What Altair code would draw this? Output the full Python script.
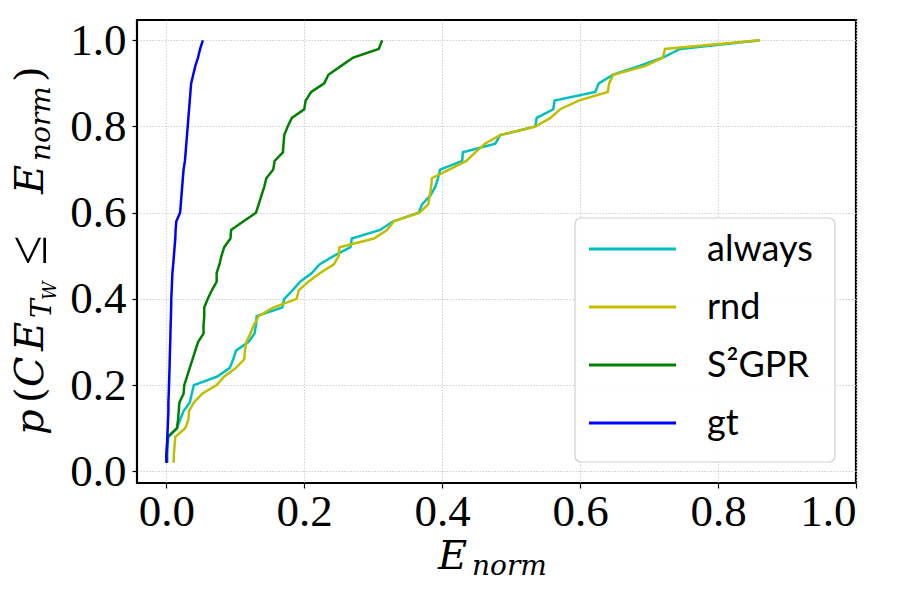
import altair as alt
import pandas as pd

# ECDF levels (50 samples per method)
levels = [k / 50 for k in range(1, 51)]

always_x = [0.001, 0.001, 0.002, 0.003, 0.0155, 0.020, 0.025, 0.034, 0.037, 0.040,
            0.074, 0.092, 0.097, 0.101, 0.119, 0.128, 0.130, 0.131, 0.168, 0.171,
            0.183, 0.194, 0.211, 0.222, 0.243, 0.267, 0.269, 0.310, 0.329, 0.366,
            0.371, 0.383, 0.390, 0.394, 0.397, 0.429, 0.430, 0.477, 0.484, 0.535,
            0.537, 0.561, 0.563, 0.622, 0.627, 0.648, 0.685, 0.720, 0.745, 0.861]

rnd_x = [0.0106, 0.011, 0.012, 0.013, 0.0275, 0.032, 0.033, 0.040, 0.052, 0.073,
         0.084, 0.101, 0.113, 0.114, 0.116, 0.122, 0.127, 0.134, 0.155, 0.189,
         0.192, 0.206, 0.223, 0.243, 0.250, 0.251, 0.301, 0.320, 0.330, 0.367,
         0.380, 0.382, 0.384, 0.385, 0.410, 0.435, 0.448, 0.462, 0.484, 0.535,
         0.557, 0.571, 0.598, 0.640, 0.642, 0.648, 0.694, 0.720, 0.723, 0.861]

s2gpr_x = [0.001, 0.001, 0.001, 0.002, 0.0155, 0.017, 0.018, 0.019, 0.025, 0.026,
           0.030, 0.034, 0.038, 0.042, 0.046, 0.054, 0.054, 0.055, 0.055, 0.060,
           0.066, 0.073, 0.073, 0.077, 0.080, 0.084, 0.093, 0.094, 0.112, 0.130,
           0.134, 0.138, 0.142, 0.145, 0.155, 0.157, 0.169, 0.170, 0.171, 0.176,
           0.182, 0.200, 0.202, 0.210, 0.229, 0.235, 0.253, 0.271, 0.308, 0.313]

gt_x = [0.000, 0.000, 0.001, 0.0015, 0.002, 0.0025, 0.003, 0.003, 0.0035, 0.0039,
        0.0043, 0.0047, 0.005, 0.0053, 0.0057, 0.006, 0.0063, 0.0067, 0.007, 0.0072,
        0.0078, 0.0083, 0.0088, 0.010, 0.011, 0.012, 0.013, 0.0135, 0.0145, 0.020,
        0.021, 0.022, 0.023, 0.024, 0.025, 0.027, 0.028, 0.029, 0.030, 0.031,
        0.032, 0.033, 0.034, 0.035, 0.036, 0.039, 0.042, 0.046, 0.049, 0.053]

series_names = ["always", "rnd", "S²GPR", "gt"]
series_colors = ["#00bfbf", "#bfbf00", "#008000", "#0000ff"]
series_values = [always_x, rnd_x, s2gpr_x, gt_x]

tick_values = [0.0, 0.2, 0.4, 0.6, 0.8, 1.0]

rows = []
for name, xs in zip(series_names, series_values):
    for i, (xv, yv) in enumerate(zip(xs, levels)):
        rows.append({"method": name, "E": xv, "p": yv, "i": i})
df = pd.DataFrame(rows)

SERIF = "Liberation Serif"
TSERIF = "DejaVu Serif"

xscale = alt.Scale(domain=[-0.0425, 1.0], nice=False, zero=False)
yscale = alt.Scale(domain=[-0.027, 1.047], nice=False, zero=False)

line_layers = []
for name, color in zip(series_names, series_colors):
    line_layers.append(
        alt.Chart(df).transform_filter(alt.datum.method == name)
        .mark_line(color=color, strokeWidth=2.5, clip=True)
        .encode(
            x=alt.X("E:Q", scale=xscale,
                    axis=alt.Axis(values=tick_values, format=".1f", title=None)),
            y=alt.Y("p:Q", scale=yscale,
                    axis=alt.Axis(values=tick_values, format=".1f", title=None)),
            order="i:Q",
        )
    )
lines = alt.layer(*line_layers)

# manual legend
leg_df = pd.DataFrame({"method": series_names, "c": series_colors})
leg_y = alt.Y("method:N", scale=alt.Scale(type="point", domain=series_names,
                                          range=[229, 403], padding=0), axis=None)
legend_box = alt.Chart(pd.DataFrame({"a": [0]})).mark_rect(
    fill="white", fillOpacity=0.9, stroke="#d0d0d0", strokeWidth=1.2, cornerRadius=6
).encode(x=alt.value(438), x2=alt.value(698), y=alt.value(198), y2=alt.value(442))
legend_rules = alt.Chart(leg_df).mark_rule(strokeWidth=3).encode(
    x=alt.value(452), x2=alt.value(539), y=leg_y,
    color=alt.Color("c:N", scale=None))
legend_text = alt.Chart(leg_df).mark_text(
    align="left", baseline="middle", font="Lato", fontSize=36, color="black", dy=1
).encode(x=alt.value(570), y=leg_y, text="method:N")
legend = alt.layer(legend_box, legend_rules, legend_text)


def label(txt, x, y, size, italic=True, angle=0, font=TSERIF):
    kw = dict(align="left", baseline="alphabetic", font=font, fontSize=size,
              color="black")
    if italic:
        kw["fontStyle"] = "italic"
    if angle:
        kw["angle"] = angle
    return alt.Chart(pd.DataFrame({"t": [txt]})).mark_text(**kw).encode(
        x=alt.value(x), y=alt.value(y), text="t:N")


# page -> plot coords: x - 137, y - 20
titles = alt.layer(
    # x title: E_norm
    label("E", 301, 549, 40),
    label("norm", 335, 555, 28),
    # y title: p(CE_{T_W} <= E_norm)
    label("p", -94, 415, 40, angle=270),
    label("(", -94, 383, 40, italic=False, angle=270),
    label("C", -94, 367, 40, angle=270),
    label("E", -94, 331, 40, angle=270),
    label("T", -86, 298, 28, angle=270),
    label("W", -81, 280, 18, angle=270),
    label("≤", -91, 245, 54, italic=False, angle=270, font=SERIF),
    label("E", -94, 174, 40, angle=270),
    label("norm", -87, 141, 28, angle=270),
    label(")", -94, 62, 40, italic=False, angle=270),
)

chart = alt.layer(lines, legend, titles).resolve_scale(
    y="independent"
).properties(
    width=719, height=463,
    autosize=alt.AutoSizeParams(type="none"),
    padding={"left": 129, "top": 12, "right": 30, "bottom": 100},
).configure_view(
    stroke="black", strokeWidth=2.2
).configure_axis(
    domain=False, grid=True, gridColor="#c4c4c4", gridDash=[1.5, 1.5], gridWidth=0.8,
    tickColor="black", tickSize=5, tickWidth=1.2,
    labelFont=SERIF, labelFontSize=45, labelColor="black",
).configure_axisX(labelPadding=1).configure_axisY(labelPadding=6)

chart.save("out.html", embed_options={"renderer": "svg", "actions": False})
